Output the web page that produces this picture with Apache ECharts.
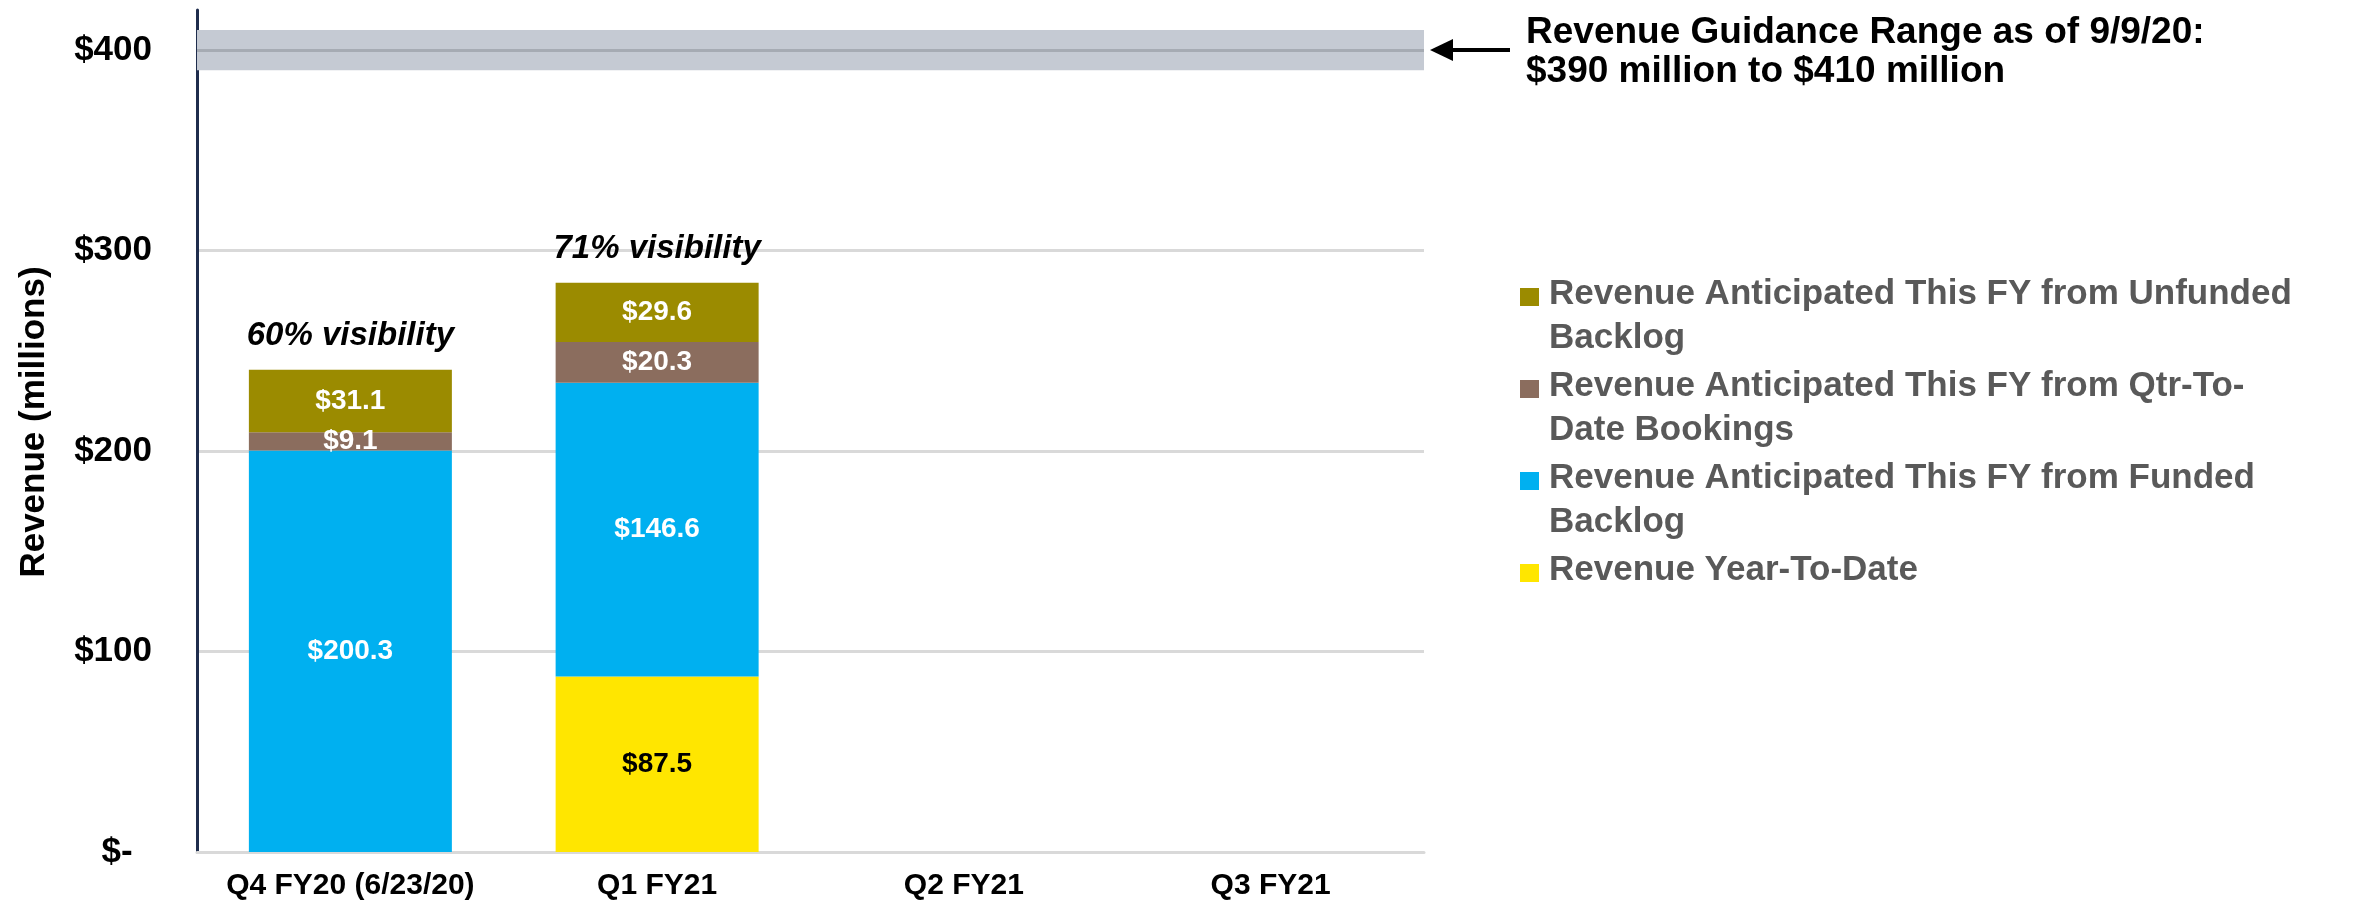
<!DOCTYPE html>
<html>
<head>
<meta charset="utf-8">
<title>Revenue visibility</title>
<script src="https://cdn.jsdelivr.net/npm/echarts@6/dist/echarts.min.js"></script>
<style>
  html, body { margin: 0; padding: 0; background: #fff; }
  #main { width: 2371px; height: 904px; }
</style>
</head>
<body>
<div id="main"></div>
<script>
// data
const quarters = ['Q4 FY20 (6/23/20)', 'Q1 FY21', 'Q2 FY21', 'Q3 FY21']
const revenueYtd = [null, 87.5, null, null]
const fundedBacklog = [200.3, 146.6, null, null]
const qtdBookings = [9.1, 20.3, null, null]
const unfundedBacklog = [31.1, 29.6, null, null]
const visibility = ['60% visibility', '71% visibility', null, null]
const yTicks = [0, 100, 200, 300, 400]
const guidanceLow = 390
const guidanceMid = 400
const guidanceHigh = 410
const guidanceNote = ['Revenue Guidance Range as of 9/9/20:', '$390 million to $410 million']

const names = {
  ytd: 'Revenue Year-To-Date',
  funded: 'Revenue Anticipated This FY from Funded Backlog',
  qtd: 'Revenue Anticipated This FY from Qtr-To-Date Bookings',
  unfunded: 'Revenue Anticipated This FY from Unfunded Backlog'
}
const colors = {
  ytd: '#ffe600',
  funded: '#00b0f0',
  qtd: '#8b6d5e',
  unfunded: '#9b8b00'
}
// legend is drawn top-down, lines wrapped like the original
const legendItems = [
  { key: 'unfunded', lines: ['Revenue Anticipated This FY from Unfunded', 'Backlog'] },
  { key: 'qtd', lines: ['Revenue Anticipated This FY from Qtr-To-', 'Date Bookings'] },
  { key: 'funded', lines: ['Revenue Anticipated This FY from Funded', 'Backlog'] },
  { key: 'ytd', lines: ['Revenue Year-To-Date'] }
]

const FONT = 'Liberation Sans, Arial, sans-serif'

const myChart = echarts.init(document.getElementById('main'))

function valueLabel (color) {
  return {
    show: true,
    position: 'inside',
    color: color,
    fontFamily: FONT,
    fontWeight: 'bold',
    fontSize: 28,
    formatter: p => (p.value == null ? '' : '$' + p.value.toFixed(1))
  }
}

function barSeries (key, data, labelColor) {
  return {
    name: names[key],
    type: 'bar',
    stack: 'rev',
    barWidth: 203,
    data: data,
    itemStyle: { color: colors[key] },
    label: valueLabel(labelColor)
  }
}

// legend built as graphic so the swatch sits on the first text line
const legendGraphics = []
let ly = 294
legendItems.forEach(item => {
  legendGraphics.push({
    type: 'rect',
    x: 1520,
    y: ly - 6,
    shape: { width: 19, height: 18 },
    style: { fill: colors[item.key] }
  })
  item.lines.forEach((line, i) => {
    legendGraphics.push({
      type: 'text',
      x: 1549,
      y: ly + i * 44,
      style: {
        text: line,
        fill: '#595959',
        font: 'bold 35px ' + FONT,
        verticalAlign: 'middle'
      }
    })
  })
  ly += (item.lines.length - 1) * 44 + 48
})

const noteGraphics = guidanceNote.map((line, i) => ({
  type: 'text',
  x: 1526,
  y: 33 + i * 39,
  style: {
    text: line,
    fill: '#000',
    font: 'bold 37px ' + FONT,
    verticalAlign: 'middle'
  }
}))

const option = {
  animation: false,
  grid: {
    left: 197,
    right: 947,
    top: 10,
    bottom: 52
  },
  xAxis: {
    type: 'category',
    data: quarters,
    axisLine: { lineStyle: { color: '#d9d9d9', width: 3 } },
    axisTick: { show: false },
    axisLabel: {
      interval: 0,
      color: '#000',
      fontFamily: FONT,
      fontWeight: 'bold',
      fontSize: 30,
      margin: 19
    }
  },
  yAxis: {
    type: 'value',
    min: 0,
    max: 420,
    interval: 100,
    name: 'Revenue (millions)',
    nameLocation: 'middle',
    nameGap: 145,
    nameTextStyle: {
      color: '#000',
      fontFamily: FONT,
      fontWeight: 'bold',
      fontSize: 35,
      padding: [0, 0, 0, 18]
    },
    axisLine: { show: true, lineStyle: { color: '#1f2d4d', width: 3 } },
    axisTick: { show: false },
    axisLabel: {
      color: '#000',
      fontFamily: FONT,
      fontWeight: 'bold',
      fontSize: 35,
      margin: 45,
      showMaxLabel: false,
      formatter: v => (yTicks.indexOf(v) < 0 ? '' : v === 0 ? '$-  ' : '$' + v)
    },
    splitLine: {
      showMinLine: false,
      showMaxLine: false,
      lineStyle: { color: '#d9d9d9', width: 3 }
    }
  },
  series: [
    barSeries('ytd', revenueYtd, '#000'),
    barSeries('funded', fundedBacklog, '#fff'),
    barSeries('qtd', qtdBookings, '#fff'),
    Object.assign(barSeries('unfunded', unfundedBacklog, '#fff'), {
      markArea: {
        silent: true,
        itemStyle: { color: '#c5cad3' },
        data: [[{ yAxis: guidanceLow }, { yAxis: guidanceHigh }]]
      },
      markLine: {
        silent: true,
        symbol: 'none',
        label: { show: false },
        lineStyle: { color: '#a6abb3', width: 3, type: 'solid' },
        data: [{ yAxis: guidanceMid }]
      }
    }),
    {
      // zero-height cap carrying the visibility note above each stack
      name: 'visibility',
      type: 'bar',
      stack: 'rev',
      barWidth: 203,
      data: visibility.map(v => (v == null ? null : 0)),
      itemStyle: { color: 'transparent' },
      label: {
        show: true,
        position: 'top',
        distance: 17,
        color: '#000',
        fontFamily: FONT,
        fontWeight: 'bold',
        fontStyle: 'italic',
        fontSize: 33,
        formatter: p => visibility[p.dataIndex] || ''
      }
    }
  ],
  graphic: [
    {
      type: 'line',
      shape: { x1: 1510, y1: 50, x2: 1448, y2: 50 },
      style: { stroke: '#000', lineWidth: 4 }
    },
    {
      type: 'polygon',
      shape: { points: [[1430, 50], [1453, 39], [1453, 61]] },
      style: { fill: '#000' }
    }
  ].concat(noteGraphics, legendGraphics)
}

myChart.setOption(option)
</script>
</body>
</html>
